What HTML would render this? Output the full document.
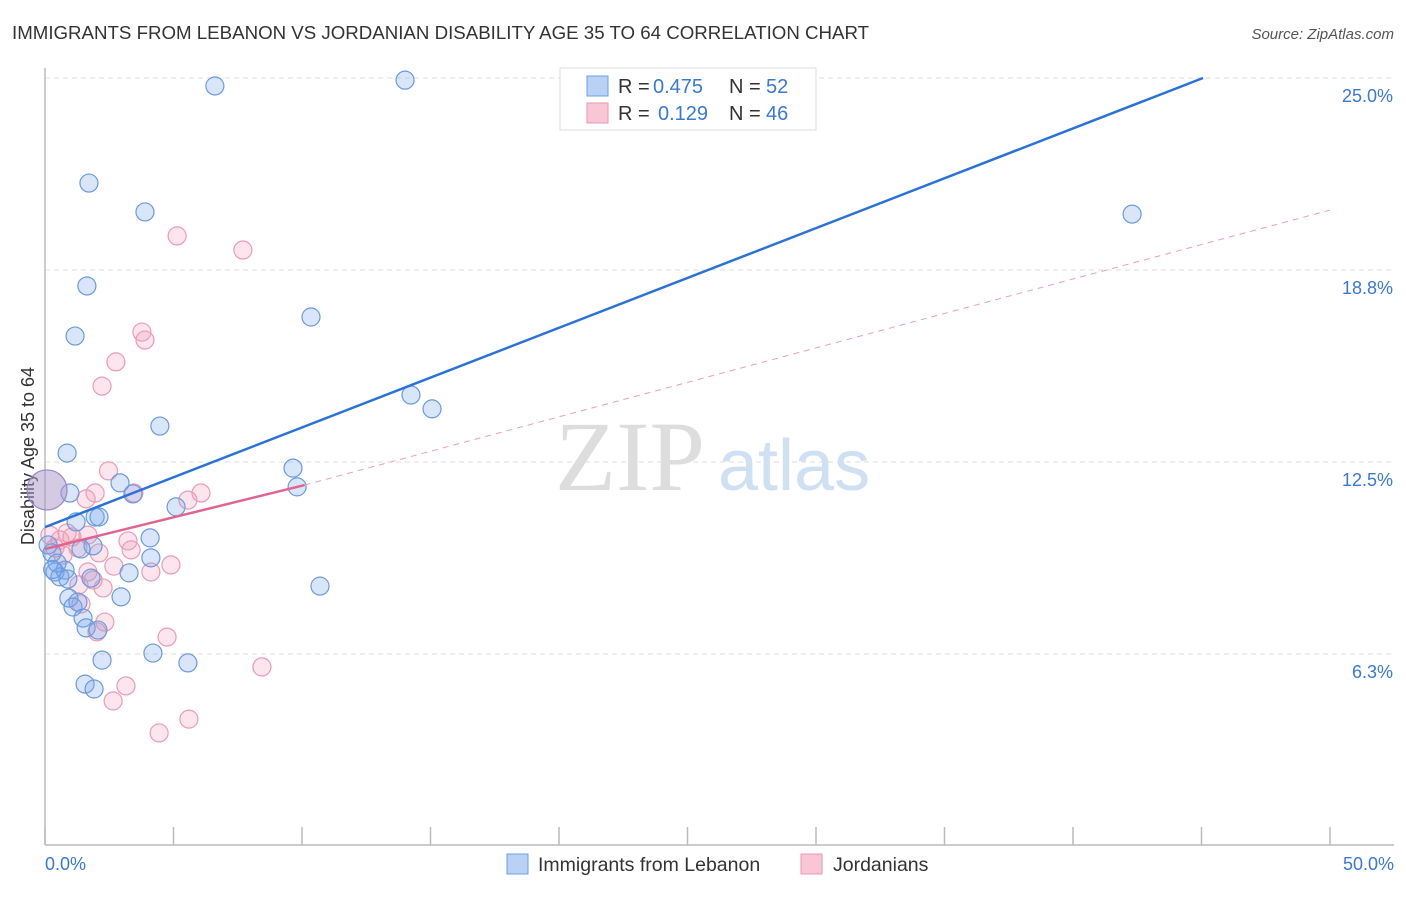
<!DOCTYPE html>
<html><head><meta charset="utf-8"><style>
body{margin:0;background:#fff;font-family:"Liberation Sans",sans-serif}
</style></head><body>
<svg id="chart" width="1406" height="892" xmlns="http://www.w3.org/2000/svg" font-family="Liberation Sans, sans-serif">
<text x="12" y="39" font-size="18.7" fill="#333">IMMIGRANTS FROM LEBANON VS JORDANIAN DISABILITY AGE 35 TO 64 CORRELATION CHART</text>
<text x="1394" y="39" font-size="15" fill="#555" font-style="italic" text-anchor="end">Source: ZipAtlas.com</text>
<g id="grid"></g>
<g>
<text x="555" y="490" font-size="100" fill="#ddd" font-family="Liberation Serif, serif">ZIP</text>
<text x="718" y="490" font-size="72" fill="#cfe0f3">atlas</text>
</g>
<line x1="45" y1="68" x2="45" y2="845" stroke="#bbb" stroke-width="1.5"/>
<line x1="45" y1="845" x2="1394" y2="845" stroke="#bbb" stroke-width="1.5"/>
<text transform="translate(34,456) rotate(-90)" font-size="18" fill="#333" text-anchor="middle">Disability Age 35 to 64</text>
<text x="45" y="870" font-size="18" fill="#3a78d6">0.0%</text>
<text x="1394" y="870" font-size="18" fill="#3a78d6" text-anchor="end">50.0%</text>
<g id="ticks"></g>
<g id="pts"></g>
<g id="lines"></g>
<g font-size="20">
<rect x="560" y="68" width="256" height="62" fill="#fff" stroke="#ddd"/>
<rect x="587" y="76" width="21" height="20" fill="#b8d1f5" stroke="#6d9de0"/>
<rect x="587" y="103" width="21" height="20" fill="#f9c6d6" stroke="#ea95b1"/>
<text x="618" y="93" fill="#333">R =</text>
<text x="653" y="93" fill="#3a78d6">0.475</text>
<text x="729" y="93" fill="#333">N =</text>
<text x="766" y="93" fill="#3a78d6">52</text>
<text x="618" y="120" fill="#333">R =</text>
<text x="658" y="120" fill="#3a78d6">0.129</text>
<text x="729" y="120" fill="#333">N =</text>
<text x="766" y="120" fill="#3a78d6">46</text>
</g>
<g>
<rect x="507" y="854" width="21" height="20" fill="#b8d1f5" stroke="#6d9de0"/>
<text x="538" y="871" font-size="19.5" fill="#333">Immigrants from Lebanon</text>
<rect x="801" y="854" width="21" height="20" fill="#f9c6d6" stroke="#ea95b1"/>
<text x="833" y="871" font-size="19.5" fill="#333">Jordanians</text>
</g>
</svg>
<script>
const yTicks=[6.25,12.5,18.75,25];
const yTickLabels=["6.3%","12.5%","18.8%","25.0%"];
const xTicks=[0,5,10,15,20,25,30,35,40,45,50];
const blueX=[6.61,14.01,1.71,3.89,42.30,1.63,10.35,1.17,14.24,15.06,4.47,0.86,9.65,9.81,2.92,0.97,3.42,5.10,1.95,2.10,1.21,1.87,4.09,4.12,0.27,1.40,3.27,0.39,0.58,0.78,0.47,1.79,0.89,10.70,2.96,0.93,1.28,1.09,1.48,1.60,2.06,4.20,2.22,5.56,1.56,1.91,0.12,0.3];
const blueY=[24.74,24.93,21.58,20.64,20.57,18.23,17.22,16.60,14.68,14.23,13.67,12.79,12.30,11.69,11.82,11.49,11.46,11.04,10.71,10.71,10.55,9.77,10.03,9.38,9.54,9.67,8.89,8.92,8.76,8.98,9.21,8.72,8.69,8.46,8.11,8.07,7.94,7.78,7.42,7.10,7.03,6.28,6.05,5.96,5.27,5.11,9.80,9.0];
const pinkX=[5.14,7.70,3.77,3.89,2.76,2.22,2.47,1.95,1.60,3.46,6.07,5.56,0.86,0.19,0.58,1.05,1.67,3.23,3.35,2.10,0.39,1.28,2.68,4.90,4.12,1.67,1.32,1.87,2.26,1.40,2.33,2.02,4.75,8.44,3.15,2.65,5.60,4.44,0.70];
const pinkY=[19.86,19.40,16.73,16.47,15.76,14.97,12.21,11.49,11.30,11.49,11.49,11.26,10.19,10.12,9.96,10.06,10.12,9.93,9.64,9.54,9.70,9.70,9.11,9.15,8.92,8.92,8.50,8.66,8.40,7.88,7.29,6.97,6.80,5.83,5.21,4.72,4.13,3.68,9.47];
const bigX=[0.08], bigY=[11.59];
const blueLine=[[0,10.38],[45.06,25]];
const pinkSolid=[[0,9.67],[10.1,11.75]];
const pinkDash=[[10.1,11.75],[50,20.7]];
const NS="http://www.w3.org/2000/svg";
const sx=v=>45+v*25.7, sy=v=>846-v*30.72;
function mk(t,a,p){const e=document.createElementNS(NS,t);for(const k in a)e.setAttribute(k,a[k]);p.appendChild(e);return e;}
const grid=document.getElementById('grid');
yTicks.forEach((v,i)=>{
 const l=mk('line',{x1:45,x2:1394,y1:sy(v),y2:sy(v),stroke:'#ddd','stroke-dasharray':'5,4'},grid);
 
 
 const t=mk('text',{x:1393,y:sy(v)+24,'font-size':18,fill:'#3a78d6','text-anchor':'end'},grid);
 t.textContent=yTickLabels[i];
 
 
});
const tk=document.getElementById('ticks');
xTicks.forEach(v=>{
 const l=mk('line',{x1:sx(v),x2:sx(v),y1:827,y2:845,stroke:'#bbb','stroke-width':1.5},tk);
 
 
});
const pts=document.getElementById('pts');
pinkX.forEach((x,i)=>{
 const c=mk('circle',{cx:sx(x),cy:sy(pinkY[i]),r:9,fill:'rgba(244,160,188,0.28)',stroke:'#ec9ab5','stroke-width':1.2},pts);
 
 
});
blueX.forEach((x,i)=>{
 const c=mk('circle',{cx:sx(x),cy:sy(blueY[i]),r:9,fill:'rgba(120,165,235,0.28)',stroke:'#6a9ae0','stroke-width':1.2},pts);
 
 
});
bigX.forEach((x,i)=>{
 const c=mk('circle',{cx:sx(x),cy:sy(bigY[i]),r:20,fill:'rgba(170,150,200,0.5)',stroke:'#9a88c8','stroke-width':1.2},pts);
 
 
});
const ln=document.getElementById('lines');
let l=mk('line',{x1:sx(blueLine[0][0]),y1:sy(blueLine[0][1]),x2:sx(blueLine[1][0]),y2:sy(blueLine[1][1]),stroke:'#2a72d8','stroke-width':2.5},ln);


l=mk('line',{x1:sx(pinkDash[0][0]),y1:sy(pinkDash[0][1]),x2:sx(pinkDash[1][0]),y2:sy(pinkDash[1][1]),stroke:'#e8a0b8','stroke-width':1,'stroke-dasharray':'6,5'},ln);


l=mk('line',{x1:sx(pinkSolid[0][0]),y1:sy(pinkSolid[0][1]),x2:sx(pinkSolid[1][0]),y2:sy(pinkSolid[1][1]),stroke:'#e0648c','stroke-width':2.5},ln);


</script>
</body></html>
